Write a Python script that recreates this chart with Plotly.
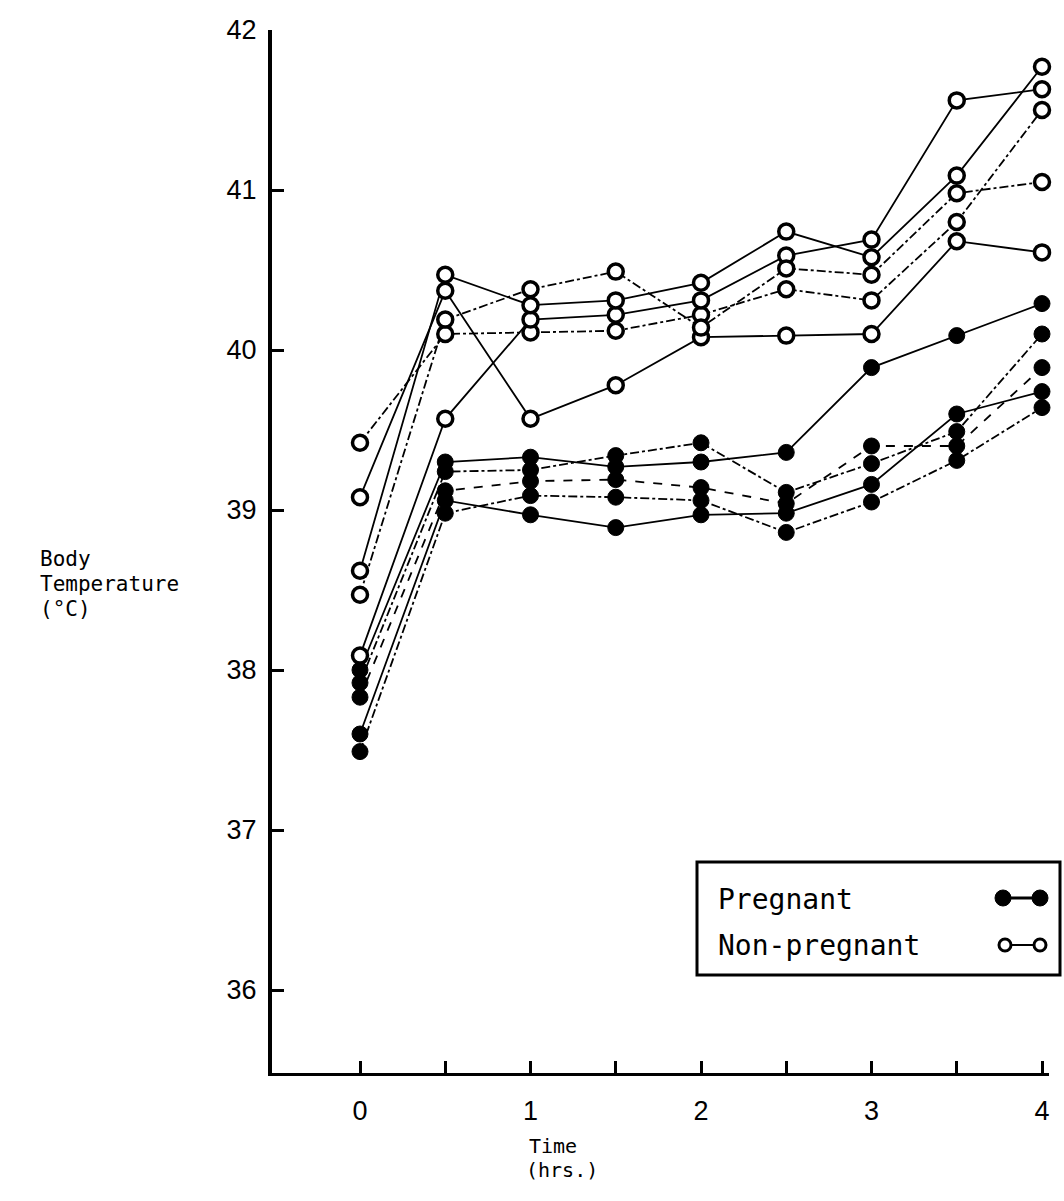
import plotly.graph_objects as go

# ---- data ----
times = [0, 0.5, 1, 1.5, 2, 2.5, 3, 3.5, 4]
x_tick_vals = [0, 0.5, 1, 1.5, 2, 2.5, 3, 3.5, 4]
x_tick_text = ["0", "", "1", "", "2", "", "3", "", "4"]
y_tick_vals = [36, 37, 38, 39, 40, 41, 42]

# Pregnant (filled circles)
preg_1 = [38.00, 39.30, 39.33, 39.27, 39.30, 39.36, 39.89, 40.09, 40.29]
preg_2 = [37.92, 39.24, 39.25, 39.34, 39.42, 39.11, 39.29, 39.49, 40.10]
preg_3 = [37.83, 39.12, 39.18, 39.19, 39.14, 39.04, 39.40, 39.40, 39.89]
preg_4 = [37.60, 39.06, 38.97, 38.89, 38.97, 38.98, 39.16, 39.60, 39.74]
preg_5 = [37.49, 38.98, 39.09, 39.08, 39.06, 38.86, 39.05, 39.31, 39.64]

# Non-pregnant (open circles)
nonp_1 = [39.08, 40.37, 39.57, 39.78, 40.08, 40.09, 40.10, 40.68, 40.61]
nonp_2 = [39.42, 40.10, 40.11, 40.12, 40.22, 40.38, 40.31, 40.80, 41.50]
nonp_3 = [38.09, 39.57, 40.19, 40.22, 40.31, 40.59, 40.69, 41.56, 41.63]
nonp_4 = [38.62, 40.47, 40.28, 40.31, 40.42, 40.74, 40.58, 41.09, 41.77]
nonp_5 = [38.47, 40.19, 40.38, 40.49, 40.14, 40.51, 40.47, 40.98, 41.05]

pregnant_series = [preg_1, preg_2, preg_3, preg_4, preg_5]
nonpreg_series = [nonp_1, nonp_2, nonp_3, nonp_4, nonp_5]
preg_dash = ["solid", "dashdot", "dash", "solid", "dashdot"]
nonp_dash = ["solid", "dashdot", "solid", "solid", "dashdot"]

# ---- layout geometry (pixels) ----
W, H = 1064, 1201
L, R, T, B = 272, 1049, 30, 1073
pw, ph = R - L, B - T


def px(x):
    return (x - L) / pw


def py(y):
    return (B - y) / ph


fig = go.Figure()

# lines first
for s, d in zip(nonpreg_series, nonp_dash):
    fig.add_trace(go.Scatter(x=times, y=s, mode="lines",
                             line=dict(color="black", width=1.8, dash=d),
                             showlegend=False, hoverinfo="skip", cliponaxis=False))
for s, d in zip(pregnant_series, preg_dash):
    fig.add_trace(go.Scatter(x=times, y=s, mode="lines",
                             line=dict(color="black", width=1.8, dash=d),
                             showlegend=False, hoverinfo="skip", cliponaxis=False))
# markers on top
for s in pregnant_series:
    fig.add_trace(go.Scatter(x=times, y=s, mode="markers",
                             marker=dict(symbol="circle", size=16, color="black",
                                         line=dict(color="black", width=1)),
                             showlegend=False, cliponaxis=False))
for s in nonpreg_series:
    fig.add_trace(go.Scatter(x=times, y=s, mode="markers",
                             marker=dict(symbol="circle", size=15, color="white",
                                         line=dict(color="black", width=3.5)),
                             showlegend=False, cliponaxis=False))

x0_px, x4_px = 360, 1042
per_hr = (x4_px - x0_px) / 4.0
xrange = [(L - x0_px) / per_hr, (R - x0_px) / per_hr]
yrange = [42 - (B - T) / 160.0, 42.0]

tick_font = dict(family="Liberation Sans, Arial, sans-serif", size=27, color="black")
mono = "DejaVu Sans Mono, Liberation Mono, monospace"

fig.update_layout(
    width=W, height=H,
    margin=dict(l=L, r=W - R, t=T, b=H - B, pad=0),
    paper_bgcolor="white", plot_bgcolor="white",
    showlegend=False,
    xaxis=dict(range=xrange, tickmode="array", tickvals=x_tick_vals, ticktext=x_tick_text,
               ticks="inside", ticklen=12, tickwidth=3, tickcolor="black",
               showline=True, linecolor="black", linewidth=3,
               showgrid=False, zeroline=False, tickfont=tick_font,
               ticklabelstandoff=12),
    yaxis=dict(range=yrange, tickmode="array", tickvals=y_tick_vals,
               ticks="inside", ticklen=12, tickwidth=2.5, tickcolor="black",
               showline=True, linecolor="black", linewidth=4,
               showgrid=False, zeroline=False, tickfont=tick_font,
               ticklabelstandoff=6),
)

annotations = []
# y-axis title lines
for txt, yc in [("Body", 559), ("Temperature", 584), ("(°C)", 609)]:
    annotations.append(dict(text=txt, xref="paper", yref="paper", x=px(38), y=py(yc),
                            xanchor="left", yanchor="middle", showarrow=False,
                            font=dict(family=mono, size=21, color="black")))
# x-axis title lines
for txt, xl, yc in [("Time", 527, 1146), ("(hrs.)", 524, 1170)]:
    annotations.append(dict(text=txt, xref="paper", yref="paper", x=px(xl), y=py(yc),
                            xanchor="left", yanchor="middle", showarrow=False,
                            font=dict(family=mono, size=20, color="black")))
# custom legend text
for txt, yc in [("Pregnant", 900), ("Non-pregnant", 946)]:
    annotations.append(dict(text=txt, xref="paper", yref="paper", x=px(716), y=py(yc),
                            xanchor="left", yanchor="middle", showarrow=False,
                            font=dict(family=mono, size=28, color="black")))
fig.update_layout(annotations=annotations)

shapes = []
# legend box
shapes.append(dict(type="rect", xref="paper", yref="paper",
                   x0=px(697), x1=px(1060), y0=py(975), y1=py(862),
                   line=dict(color="black", width=3), fillcolor="rgba(0,0,0,0)"))


# legend symbols
def circ(cx, cy, r, fill, lw):
    return dict(type="circle", xref="paper", yref="paper",
                x0=px(cx - r), x1=px(cx + r), y0=py(cy + r), y1=py(cy - r),
                line=dict(color="black", width=lw), fillcolor=fill)


shapes.append(dict(type="line", xref="paper", yref="paper",
                   x0=px(1003), x1=px(1040), y0=py(898), y1=py(898),
                   line=dict(color="black", width=3)))
shapes.append(circ(1003, 898, 8, "black", 1))
shapes.append(circ(1040, 898, 8, "black", 1))
shapes.append(dict(type="line", xref="paper", yref="paper",
                   x0=px(1005), x1=px(1040), y0=py(945), y1=py(945),
                   line=dict(color="black", width=2)))
shapes.append(circ(1005, 945, 6, "white", 3))
shapes.append(circ(1040, 945, 6, "white", 3))
fig.update_layout(shapes=shapes)

fig.write_html("out.html")
